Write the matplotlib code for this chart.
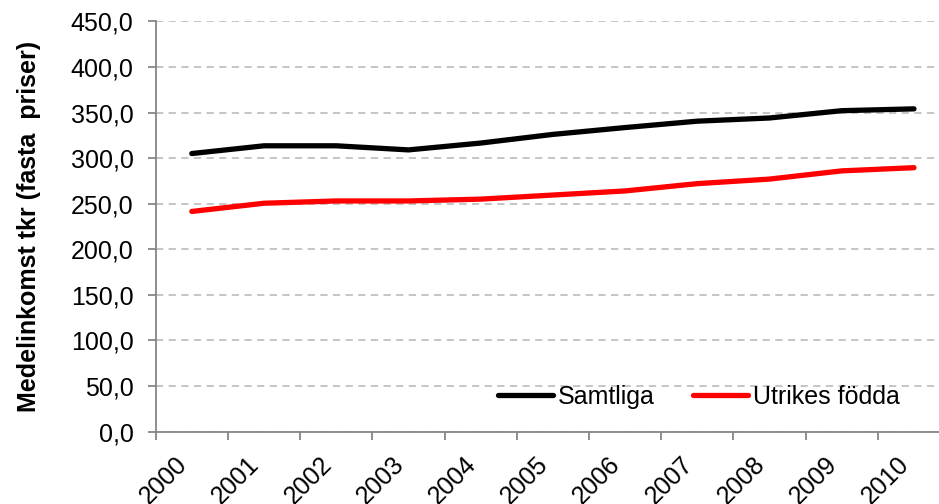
import numpy as np
import matplotlib
matplotlib.use('Agg')
import matplotlib.pyplot as plt
from matplotlib.ticker import FuncFormatter, FixedLocator

years = ['2000','2001','2002','2003','2004','2005','2006','2007','2008','2009','2010']
samtliga = [305.0, 313.5, 313.5, 309.0, 316.5, 326.0, 333.5, 340.5, 344.0, 352.0, 354.0]
utrikes = [241.5, 250.5, 253.0, 253.0, 255.0, 259.5, 264.0, 272.0, 277.0, 286.0, 289.5]
yticks = np.arange(0, 451, 50)

plt.rcParams['font.family'] = ['Liberation Sans', 'DejaVu Sans']
fs = 18

fig = plt.figure(figsize=(9.39, 5.04), dpi=100)
ax = fig.add_axes([0.1658, 0.1435, 0.846, 0.8142])

x = np.arange(len(years))
ax.plot(x, samtliga, color='black', lw=3.8, solid_capstyle='round', label='Samtliga')
ax.plot(x, utrikes, color='#ff0000', lw=3.8, solid_capstyle='round', label='Utrikes födda')

ax.set_xlim(-0.5, len(years) - 0.5)
ax.set_ylim(0, 450)
ax.set_yticks(yticks)
ax.yaxis.set_major_formatter(FuncFormatter(lambda v, p: ('%.1f' % v).replace('.', ',')))
ax.grid(axis='y', color='#c0c0c0', ls=(0, (4, 3)), lw=1.3)
ax.set_axisbelow(True)

# year labels centred in each category, tick marks on the category borders
ax.set_xticks(x)
ax.set_xticklabels(years, rotation=45, ha='right', fontsize=fs)
ax.tick_params(axis='x', which='major', length=0, pad=15)
ax.xaxis.set_minor_locator(FixedLocator(np.arange(-0.5, len(years) + 0.5, 1)))
ax.tick_params(axis='x', which='minor', length=6, width=1.3, color='#868686')
ax.tick_params(axis='y', length=6, width=1.3, color='#868686', labelsize=fs, pad=10)

for s in ['top', 'right']:
    ax.spines[s].set_visible(False)
for s in ['left', 'bottom']:
    ax.spines[s].set_color('#868686')
    ax.spines[s].set_linewidth(1.3)

ax.set_ylabel('Medelinkomst tkr (fasta  priser)', fontsize=fs, fontweight='bold', labelpad=21)

ax.legend(loc='center right', bbox_to_anchor=(0.95, 0.085), ncol=2, frameon=False,
          fontsize=fs, handlelength=2.2, handletextpad=0.2, columnspacing=1.55,
          borderaxespad=0)

fig.savefig('out.png', dpi=100)
